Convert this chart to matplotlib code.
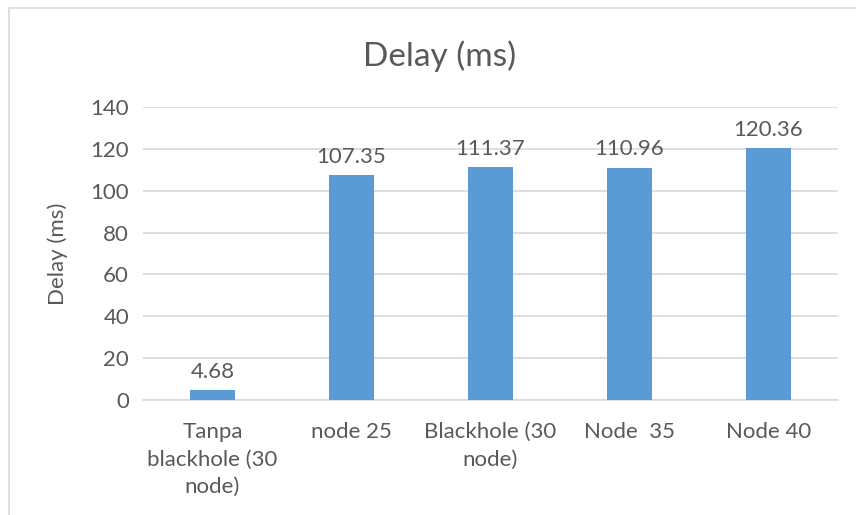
import matplotlib
matplotlib.use("Agg")
import matplotlib.pyplot as plt
from matplotlib.patches import Rectangle

categories = ["Tanpa\nblackhole (30\nnode)", "node 25", "Blackhole (30\nnode)", "Node  35", "Node 40"]
delays = [4.68, 107.35, 111.37, 110.96, 120.36]
yticks = [0, 20, 40, 60, 80, 100, 120, 140]

plt.rcParams['font.family'] = ['Lato', 'DejaVu Sans']
text_color = "#595959"
bar_color = "#5B9BD5"
grid_color = "#D9D9D9"
fs = 16

W, H = 856, 515
fig = plt.figure(figsize=(W / 100, H / 100), dpi=100)
fig.patch.set_facecolor("white")

# chart area border
fig.add_artist(Rectangle((9 / W, -0.1), 1.0, (H - 8) / H + 0.1, transform=fig.transFigure,
                         fill=False, edgecolor=grid_color, linewidth=1.2))

left, right = 143 / W, 838 / W
bottom, top = 1 - 400 / H, 1 - 107 / H
ax = fig.add_axes([left, bottom, right - left, top - bottom])

x = range(len(categories))
ax.bar(x, delays, width=0.32, color=bar_color, zorder=3)
for xi, v in zip(x, delays):
    ax.text(xi, v + 4, f"{v:.2f}", ha="center", va="bottom", fontsize=fs, color=text_color)

ax.set_xlim(-0.5, len(categories) - 0.5)
ax.set_ylim(0, 140)
ax.set_yticks(yticks)
ax.set_yticklabels([str(t) for t in yticks], fontsize=fs, color=text_color)
ax.set_xticks(list(x))
ax.set_xticklabels(categories, fontsize=fs, color=text_color, linespacing=1.45, va="top")
ax.tick_params(axis="both", length=0)
ax.tick_params(axis="y", pad=10)
ax.tick_params(axis="x", pad=16)
ax.grid(axis="y", color=grid_color, linewidth=1.2, zorder=0)
for s in ["top", "right", "left"]:
    ax.spines[s].set_visible(False)
ax.spines["bottom"].set_color(grid_color)
ax.spines["bottom"].set_linewidth(1.2)

ax.set_ylabel("Delay (ms)", fontsize=fs, color=text_color, labelpad=16)
fig.text(440 / W, 1 - 56 / H, "Delay (ms)", ha="center", va="center", fontsize=24, color=text_color)

fig.savefig("out.png", dpi=100)
